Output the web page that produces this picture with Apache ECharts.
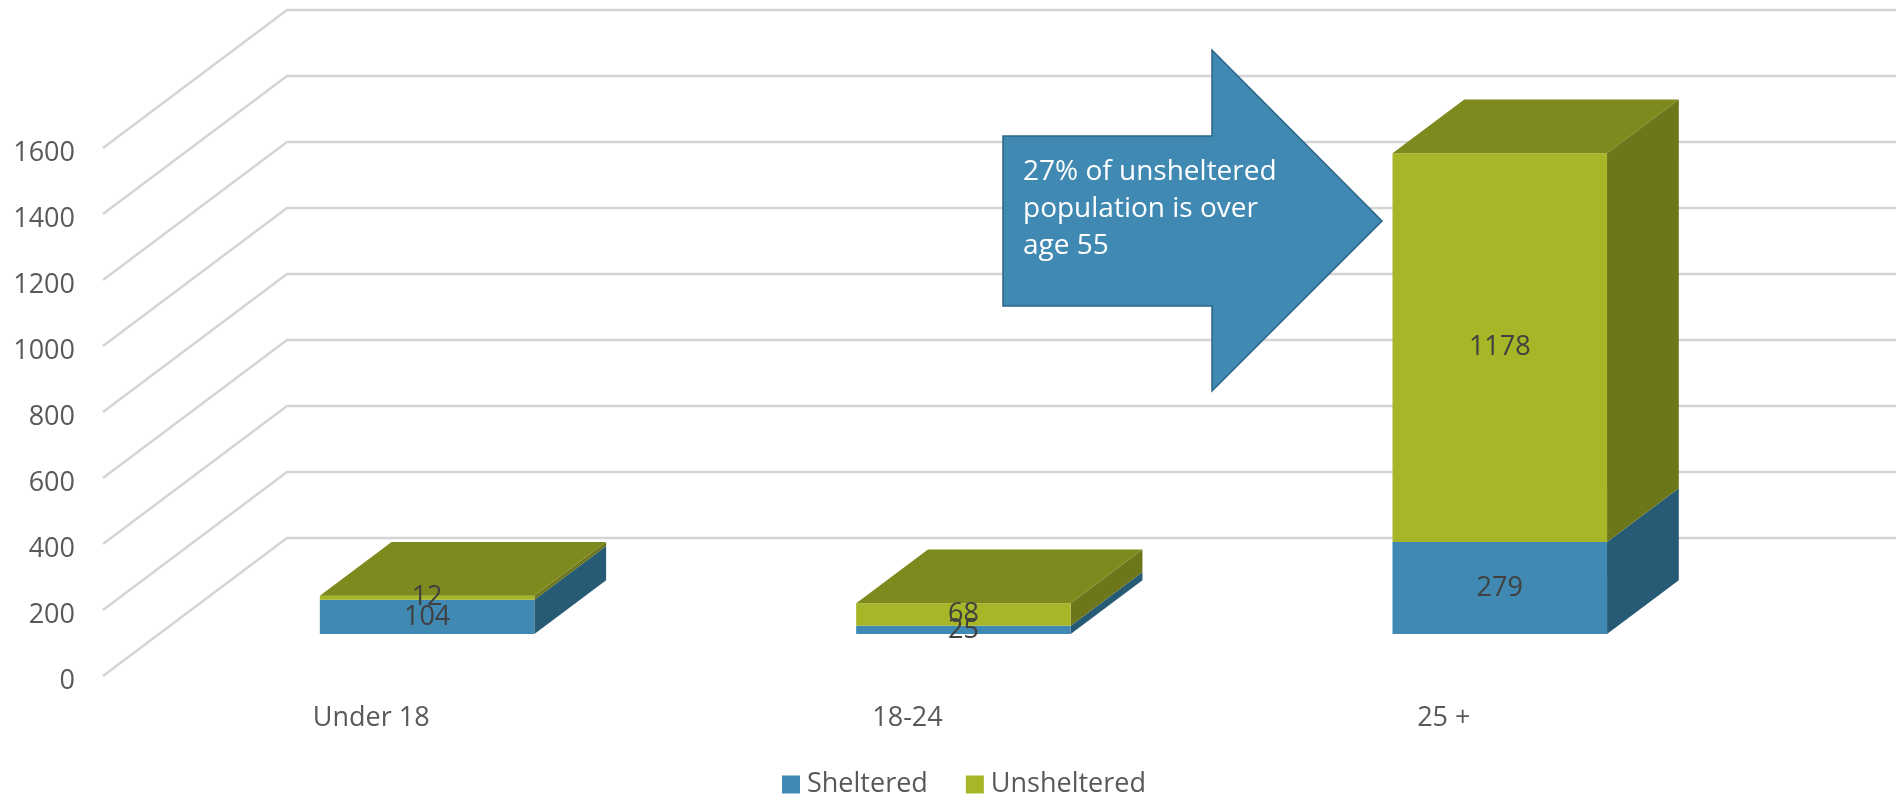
<!DOCTYPE html>
<html><head><meta charset="utf-8">
<script src="https://cdn.jsdelivr.net/npm/echarts@6/dist/echarts.min.js"></script>
<style>html,body{margin:0;padding:0;background:#fff}#c{width:1896px;height:807px}</style>
</head><body><div id="c"></div>
<script>
var categories = ['Under 18', '18-24', '25 +'];
var sheltered = [104, 25, 279];
var unsheltered = [12, 68, 1178];
var yTicks = [0, 200, 400, 600, 800, 1000, 1200, 1400, 1600];
var seriesNames = ['Sheltered', 'Unsheltered'];
var annotationText = '27% of unsheltered\npopulation is over\nage 55';

var DEPTH_X = 184, DEPTH_Y = 138;
var BAR_FRONT = 0.304, BAR_DEPTH = 0.39, BAR_RATIO = 0.4;
var FONT = '"Open Sans", sans-serif';
var COLS = [
  {front: '#3f89b3', side: '#275a74', top: '#336f91'},
  {front: '#a7b626', side: '#6b771a', top: '#7f8a1e'}
];

function gridRender(params, api) {
  var cs = params.coordSys;
  var y = api.coord([0, api.value(1)])[1];
  var x0 = cs.x, x1 = cs.x + DEPTH_X, y1 = y - DEPTH_Y, x2 = cs.x + cs.width + DEPTH_X;
  return {type: 'polyline', shape: {points: [[x0, y], [x1, y1], [x2, y1]]},
    style: {stroke: '#d4d4d4', lineWidth: 2.3, fill: null}};
}

function makeBarRender(col, isTop) {
  return function (params, api) {
    var cat = api.value(0), v0 = api.value(1), v1 = api.value(2);
    var band = api.size([1, 0])[0];
    var w = band * BAR_RATIO;
    var c0 = api.coord([cat, v0]), c1 = api.coord([cat, v1]);
    var ox = DEPTH_X * BAR_FRONT, oy = DEPTH_Y * BAR_FRONT;
    var xl = c0[0] + ox - w / 2, xr = xl + w;
    var yb = c0[1] - oy, yt = c1[1] - oy;
    var dx = DEPTH_X * BAR_DEPTH, dy = DEPTH_Y * BAR_DEPTH;
    var children = [
      {type: 'polygon', shape: {points: [[xr, yb], [xr + dx, yb - dy], [xr + dx, yt - dy], [xr, yt]]}, style: {fill: col.side}},
      {type: 'rect', shape: {x: xl, y: yt, width: w, height: yb - yt}, style: {fill: col.front}}
    ];
    if (isTop) {
      children.push({type: 'polygon', shape: {points: [[xl, yt], [xl + dx, yt - dy], [xr + dx, yt - dy], [xr, yt]]}, style: {fill: col.top}});
    }
    children.push({type: 'text', z2: 50, style: {text: String(api.value(3)), x: (xl + xr) / 2, y: (yb + yt) / 2,
      align: 'center', verticalAlign: 'middle', font: '27px ' + FONT, fill: '#404040'}});
    return {type: 'group', children: children};
  };
}

var shelteredData = categories.map(function (c, i) { return [i, 0, sheltered[i], sheltered[i]]; });
var unshelteredData = categories.map(function (c, i) { return [i, sheltered[i], sheltered[i] + unsheltered[i], unsheltered[i]]; });
var gridData = yTicks.map(function (v) { return [0, v]; });

var chart = echarts.init(document.getElementById('c'));
chart.setOption({
  animation: false,
  color: [COLS[0].front, COLS[1].front],
  grid: {left: 103, right: 184, top: 148, bottom: 131},
  xAxis: {type: 'category', data: categories, axisLine: {show: false}, axisTick: {show: false},
    axisLabel: {fontSize: 27, fontFamily: FONT, color: '#595959', margin: 29}},
  yAxis: {type: 'value', min: 0, max: 1600, interval: 200, splitLine: {show: false},
    axisLine: {show: false}, axisTick: {show: false},
    axisLabel: {fontSize: 27, fontFamily: FONT, color: '#595959', margin: 28, verticalAlign: 'top', lineHeight: 10,
      formatter: function (v) { return String(v); }}},
  legend: {data: seriesNames, left: 777, top: 766, icon: 'rect', itemWidth: 18, itemHeight: 18, itemGap: 38,
    textStyle: {fontSize: 27, fontFamily: FONT, color: '#595959', padding: [0, 0, 0, 2]}},
  series: [
    {type: 'custom', name: 'grid', renderItem: gridRender, data: gridData, encode: {x: 0, y: 1}, silent: true, z: 1},
    {type: 'custom', name: seriesNames[0], renderItem: makeBarRender(COLS[0], false), data: shelteredData,
      encode: {x: 0, y: [1, 2]}, itemStyle: {color: COLS[0].front}, z: 2},
    {type: 'custom', name: seriesNames[1], renderItem: makeBarRender(COLS[1], true), data: unshelteredData,
      encode: {x: 0, y: [1, 2]}, itemStyle: {color: COLS[1].front}, z: 2}
  ],
  graphic: [
    {type: 'polygon', z: 100, shape: {points: [[1003, 136], [1212, 136], [1212, 50], [1382, 221], [1212, 391], [1212, 306], [1003, 306]]},
      style: {fill: '#3f89b3', stroke: '#2c6585', lineWidth: 1.5}},
    {type: 'text', z: 101, x: 1023, y: 154, style: {text: annotationText, font: '28px ' + FONT, fill: '#ffffff', lineHeight: 37}}
  ]
});
</script>
</body></html>
